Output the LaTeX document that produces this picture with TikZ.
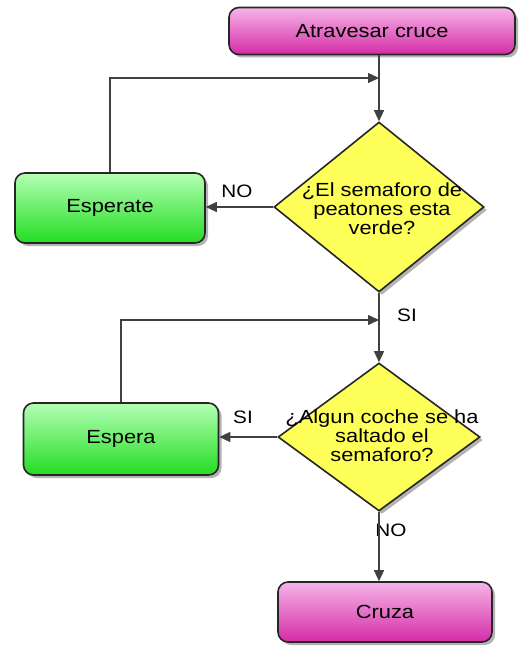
\documentclass[tikz,border=0pt]{standalone}
\usepackage{fontspec}
\setmainfont{Liberation Sans}[FakeStretch=1.15]
\usetikzlibrary{shapes.geometric,arrows.meta,shadows}
\definecolor{pinkTop}{HTML}{F6B4E8}
\definecolor{pinkBot}{HTML}{D42CA6}
\definecolor{greenTop}{HTML}{B4FFB4}
\definecolor{greenBot}{HTML}{22DD22}
\definecolor{yellowFill}{HTML}{FFFF5A}
\begin{document}
\begin{tikzpicture}[x=1pt, y=-1pt,
			box/.style={rectangle, rounded corners=10pt, draw=black!85, line width=1.6pt, inner sep=0pt,
				drop shadow={shadow xshift=3pt, shadow yshift=-3pt, opacity=0.6},
				font=\fontsize{19}{19}\selectfont},
			pinkbox/.style={box, top color=pinkTop, bottom color=pinkBot},
			greenbox/.style={box, top color=greenTop, bottom color=greenBot},
			decision/.style={diamond, draw=black!85, line width=1.6pt, fill=yellowFill, inner sep=0pt,
				drop shadow={shadow xshift=3pt, shadow yshift=-3pt, opacity=0.6}},
			qtext/.style={align=center, inner sep=0pt, font=\fontsize{19}{19}\selectfont},
			lbl/.style={inner sep=0pt, font=\fontsize{18}{18}\selectfont},
			flow/.style={draw=black!75, line width=1.3pt, -{Triangle[length=11pt,width=10pt]}}
			]
			\useasboundingbox (0,0) rectangle (519,647);
			
			% Nodes
			\node[pinkbox, minimum width=286pt, minimum height=47pt] (start) at (372,31) {Atravesar cruce};
			
			\node[decision, minimum width=210pt, minimum height=170pt] (q1) at (379,207) {};
			\node[qtext] (q1t) at (382,209) {¿El semaforo de\\peatones esta\\verde?};
			\node[greenbox, minimum width=190pt, minimum height=70pt] (wait1) at (110,208) {Esperate};
			
			\node[decision, minimum width=202pt, minimum height=148pt] (q2) at (379,437) {};
			\node[qtext] (q2t) at (382,436) {¿Algun coche se ha\\saltado el\\semaforo?};
			\node[greenbox, minimum width=195pt, minimum height=72pt] (wait2) at (121,439) {Espera};
			
			\node[pinkbox, minimum width=214pt, minimum height=60pt] (cross) at (385,612) {Cruza};
			
			\coordinate (j1) at (379,78);
			\coordinate (j2) at (379,320);
			
			% Labels
			\node[lbl] (no1) at (237,191) {NO};
			\node[lbl] (si1) at (407,315) {SI};
			\node[lbl] (si2) at (243,417) {SI};
			\node[lbl] (no2) at (391,530) {NO};
			
			% Edges
			\draw[flow] (q1.north |- start.south) -- (q1.north);
			\draw[flow] (wait1.north) |- (j1);
			\draw[flow] (q1.west) -- (q1.west -| wait1.east);
			
			\draw[flow] (q1.south) -- (q2.north);
			\draw[flow] (wait2.north) |- (j2);
			\draw[flow] (q2.west) -- (q2.west -| wait2.east);
			
			\draw[flow] (q2.south) -- (q2.south |- cross.north);
			
		\end{tikzpicture}
\end{document}
